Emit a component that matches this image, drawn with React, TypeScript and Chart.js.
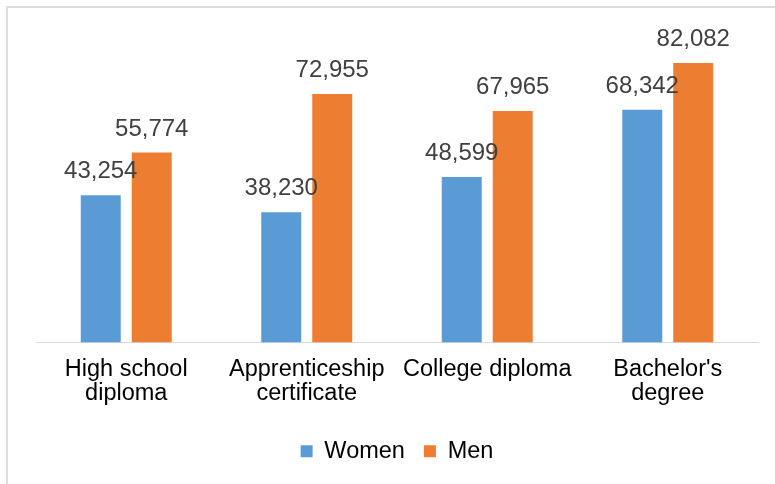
import React, { useEffect, useRef } from "react";
import { Chart, registerables } from "chart.js";

Chart.register(...registerables);

const categories: string[][] = [
  ["High school", "diploma"],
  ["Apprenticeship", "certificate"],
  ["College diploma"],
  ["Bachelor's", "degree"],
];
const women: number[] = [43254, 38230, 48599, 68342];
const men: number[] = [55774, 72955, 67965, 82082];
const seriesNames: string[] = ["Women", "Men"];
const yMax = 90000;

const FONT = "'Liberation Sans', Arial, sans-serif";

const valueLabels = {
  id: "valueLabels",
  afterDatasetsDraw(chart: any) {
    const ctx = chart.ctx;
    ctx.save();
    ctx.font = `24px ${FONT}`;
    ctx.fillStyle = "#404040";
    ctx.textAlign = "center";
    ctx.textBaseline = "alphabetic";
    chart.data.datasets.forEach((ds: any, i: number) => {
      const meta = chart.getDatasetMeta(i);
      meta.data.forEach((el: any, j: number) => {
        const v = ds.data[j] as number;
        ctx.fillText(v.toLocaleString("en-US"), el.x, el.y - 17);
      });
    });
    ctx.restore();
  },
};

export default function App() {
  const ref = useRef<HTMLCanvasElement>(null);
  useEffect(() => {
    if (!ref.current) return;
    const chart = new Chart(ref.current, {
      type: "bar",
      data: {
        labels: categories,
        datasets: [
          {
            label: seriesNames[0],
            data: women,
            backgroundColor: "#5B9BD5",
            categoryPercentage: 0.565,
            barPercentage: 0.784,
          },
          {
            label: seriesNames[1],
            data: men,
            backgroundColor: "#ED7D31",
            categoryPercentage: 0.565,
            barPercentage: 0.784,
          },
        ],
      },
      options: {
        animation: false,
        responsive: true,
        maintainAspectRatio: false,
        layout: { padding: { left: 36, right: 17, top: 36, bottom: 11 } },
        plugins: {
          tooltip: { enabled: false },
          legend: {
            position: "bottom",
            labels: {
              boxWidth: 12,
              boxHeight: 12,
              padding: 19,
              color: "#000",
              font: { family: FONT, size: 23.5 },
            },
          },
        },
        scales: {
          x: {
            grid: { display: false, drawTicks: false },
            border: { display: true, color: "#d9d9d9", width: 1 },
            ticks: {
              color: "#000",
              font: { family: FONT, size: 23.5, lineHeight: 1.02 },
              maxRotation: 0,
              autoSkip: false,
              padding: 15,
            },
          },
          y: {
            display: false,
            min: 0,
            max: yMax,
          },
        },
      },
      plugins: [valueLabels],
    });
    return () => chart.destroy();
  }, []);

  return (
    <div style={{ position: "fixed", left: 0, top: 0, width: 775, height: 484, overflow: "hidden", background: "#fff" }}>
      <div
        style={{
          position: "absolute",
          left: 6,
          top: 6,
          width: 800,
          height: 520,
          border: "2px solid #dedede",
          boxSizing: "border-box",
        }}
      />
      <canvas ref={ref} style={{ position: "absolute", left: 0, top: 0 }} />
    </div>
  );
}
